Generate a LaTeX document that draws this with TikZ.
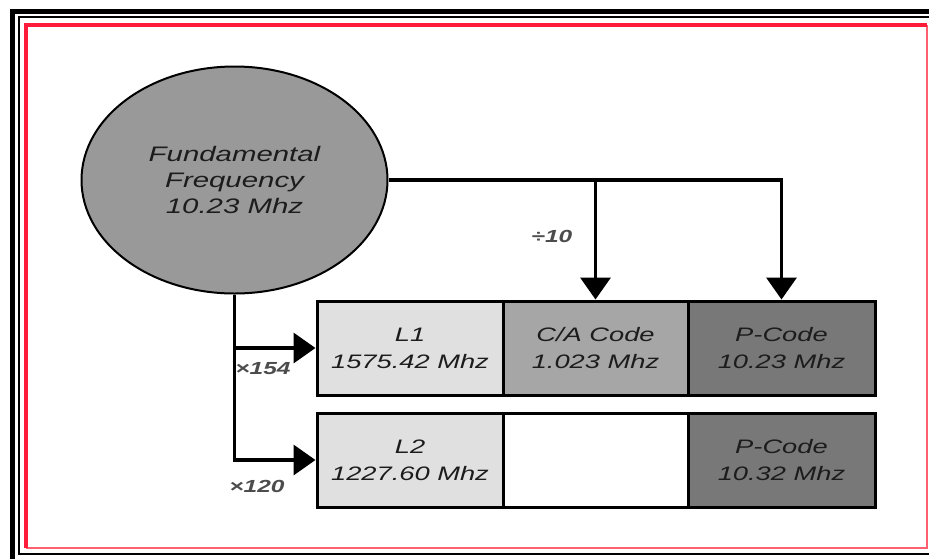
\documentclass[tikz,border=0pt]{standalone}
\usepackage{fontspec}
\newfontfamily\diagfont[FakeStretch=1.4]{Liberation Sans}
\usepackage{tikz}
\usetikzlibrary{arrows.meta,positioning,shapes.geometric}

\definecolor{framered}{RGB}{255,28,58}
\definecolor{framepink}{RGB}{255,96,112}
\definecolor{lightcell}{RGB}{224,224,224}
\definecolor{midcell}{RGB}{166,166,166}
\definecolor{darkcell}{RGB}{120,120,120}
\definecolor{fundfill}{RGB}{153,153,153}
\definecolor{inktext}{RGB}{28,28,28}

\begin{document}
\begin{tikzpicture}[x=1pt,y=-1pt,
  cell/.style={draw=black,line width=3pt,rectangle,minimum width=186pt,minimum height=94pt,
    inner sep=0pt,align=center,text=inktext,font=\diagfont\itshape\fontsize{19.5}{27}\selectfont},
  ratio/.style={text=black!70,inner sep=0pt,font=\diagfont\bfseries\itshape\fontsize{17.5}{20}\selectfont},
  flow/.style={line width=3.5pt,-{Triangle[width=30pt,length=22pt]}}
]
  \useasboundingbox (0,0) rectangle (929,558);
  % frame
  \draw[line width=5pt] (12.5,11) rectangle (940,570);
  \draw[line width=1.5pt] (19,17) rectangle (931,554);
  \draw[framepink,line width=1.5pt] (25.5,548) -- (927,548) -- (927,25);
  \draw[framered,line width=4pt] (25.5,548) -- (25.5,25) -- (927,25);

  \node[ellipse,draw,line width=2pt,fill=fundfill,minimum width=306pt,minimum height=227pt,
    inner sep=0pt,align=center,text=inktext,font=\diagfont\itshape\fontsize{21}{26}\selectfont]
    (fund) at (234.5,180) {Fundamental\\Frequency\\10.23 Mhz};

  \node[cell,fill=lightcell] (lone) at (410,348) {L1\\1575.42 Mhz};
  \node[cell,fill=midcell,minimum width=185pt] (cacode) at (595.5,348) {C/A Code\\1.023 Mhz};
  \node[cell,fill=darkcell,minimum width=187pt] (pcodeone) at (781.5,348) {P-Code\\10.23 Mhz};
  \node[cell,fill=lightcell] (ltwo) at (410,460) {L2\\1227.60 Mhz};
  \node[cell,fill=white,minimum width=185pt] (blank) at (595.5,460) {};
  \node[cell,fill=darkcell,minimum width=187pt] (pcodetwo) at (781.5,460) {P-Code\\10.32 Mhz};

  \draw[flow] (fund.east) -| (pcodeone.north);
  \draw[flow] (fund.east -| cacode.north) -- (cacode.north);
  \draw[flow] (fund.south) |- (lone.west);
  \draw[flow] (fund.south) |- (ltwo.west);

  \node[ratio] (divten) at (552,236) {÷10};
  \node[ratio] (mulone) at (263,369) {×154};
  \node[ratio] (multwo) at (257,486) {×120};
\end{tikzpicture}
\end{document}
